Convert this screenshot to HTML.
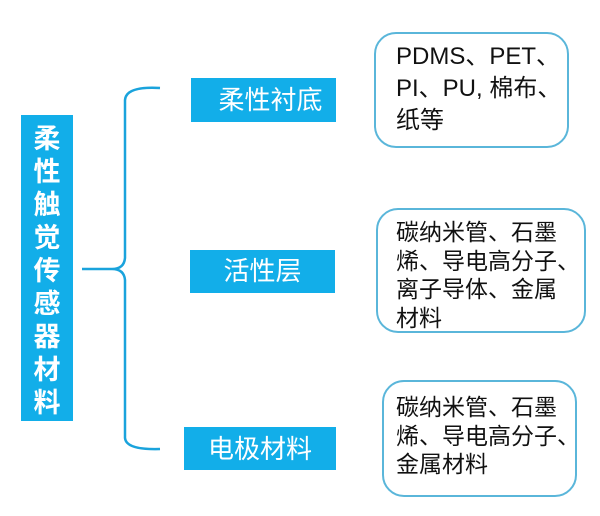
<!DOCTYPE html>
<html><head><meta charset="utf-8"><style>
body{margin:0;width:600px;height:516px;background:#fff;position:relative;overflow:hidden;font-family:"Liberation Sans","Noto Sans CJK SC",sans-serif}
.b{position:absolute;background:#12aee9;color:#fff;font-size:26px;text-align:center}
.r{position:absolute;border:2px solid #5ab6da;border-radius:22px;box-sizing:border-box}
.t{position:absolute;font-size:23px;color:#111;white-space:nowrap;line-height:28.5px}
.v{position:absolute;left:21px;top:115px;width:52px;height:306px;background:#12aee9;color:#fff;font-weight:bold;font-size:27px;line-height:33px;text-align:center;padding-top:8px;box-sizing:border-box}
</style></head><body>
<div class="v">柔<br>性<br>触<br>觉<br>传<br>感<br>器<br>材<br>料</div>
<svg style="position:absolute;left:0;top:0" width="600" height="516">
<path d="M160 88 Q126 86 125 100 L125 258 Q124 269 112 269 L82 269 M112 269 Q124 269 125 280 L125 438 Q126 450 160 449" fill="none" stroke="#1aa3dc" stroke-width="2.5"/>
</svg>
<div class="b" style="left:191px;top:78px;width:145px;height:44px;line-height:44px;padding-left:14px;box-sizing:border-box">柔性衬底</div>
<div class="b" style="left:190px;top:250px;width:145px;height:43px;line-height:43px">活性层</div>
<div class="b" style="left:184px;top:427px;width:152px;height:43px;line-height:45px">电极材料</div>
<div class="r" style="left:374px;top:32px;width:195px;height:116px"></div>
<div class="t" style="left:396px;top:41px;font-size:24px;line-height:32px">PDMS、PET、<br>PI、PU, 棉布、<br>纸等</div>
<div class="r" style="left:376px;top:208px;width:210px;height:125px"></div>
<div class="t" style="left:396px;top:218px">碳纳米管、石墨<br>烯、导电高分子、<br>离子导体、金属<br>材料</div>
<div class="r" style="left:382px;top:380px;width:195px;height:117px"></div>
<div class="t" style="left:396px;top:393px">碳纳米管、石墨<br>烯、导电高分子、<br>金属材料</div>
</body></html>
